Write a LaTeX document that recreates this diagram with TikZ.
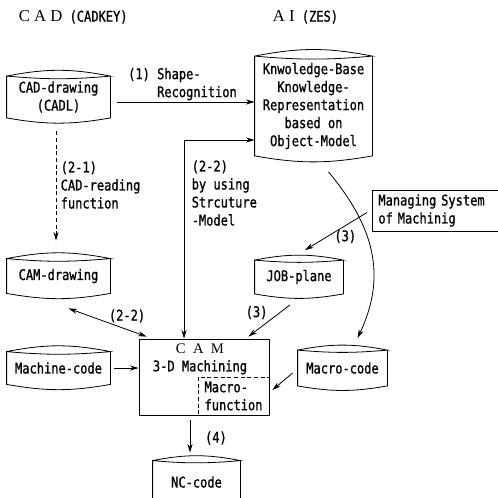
\documentclass[tikz,border=0pt]{standalone}
\usepackage{fontspec}
\setmainfont{DejaVu Sans Mono}[FakeStretch=0.82, FakeBold=1]
\newfontfamily\romfont{Liberation Serif}
\usetikzlibrary{arrows.meta,calc,positioning}

\newcommand{\storeline}[1]{%
  \draw (#1.north west) to[bend left=11] (#1.north east)
    to[bend left=5] (#1.north west) -- (#1.south west)
    to[bend right=10] (#1.south east) -- (#1.north east);}

\begin{document}
\begin{tikzpicture}[x=0.75pt, y=-0.75pt, line width=0.6pt,
  font=\fontsize{11}{13.5}\selectfont,
  store/.style={inner sep=0pt, align=center},
  flow/.style={-{Stealth[length=6.5pt,width=3.8pt]}},
  twoway/.style={{Stealth[length=6.5pt,width=3.8pt]}-{Stealth[length=6.5pt,width=3.8pt]}},
  tag/.style={inner sep=1pt, align=left}]
\useasboundingbox (0,0) rectangle (498,498);

\node[anchor=west] (cadtitle) at (14,17) {{\romfont\fontsize{12.5}{14}\selectfont C A D} (CADKEY)};
\node[anchor=west] (aititle) at (268,17) {{\romfont\fontsize{12.5}{14}\selectfont A I} (ZES)};

\node[store, minimum width=77.25pt, minimum height=30.75pt] (caddrw) at (58.5,97) {CAD-drawing\\(CADL)};
\storeline{caddrw}

\node[store, minimum width=87.75pt, minimum height=74.25pt] (kb) at (313.5,106) {Knwoledge-Base\\Knowledge-\\Representation\\based on\\Object-Model};
\storeline{kb}

\node[store, minimum width=77.25pt, minimum height=25.5pt] (camdrw) at (58.5,276) {CAM-drawing};
\storeline{camdrw}

\node[store, minimum width=77.25pt, minimum height=24pt] (machine) at (58.5,368) {Machine-code};
\storeline{machine}

\node[store, minimum width=66pt, minimum height=24.75pt] (job) at (299,277) {JOB-plane};
\storeline{job}

\node[store, minimum width=66.75pt, minimum height=26.25pt] (macro) at (342.5,368) {Macro-code};
\storeline{macro}

\node[store, minimum width=65.25pt, minimum height=31.5pt] (nc) at (196.5,482) {NC-code};
\storeline{nc}

\node[draw, minimum width=97.5pt, minimum height=57pt] (cam) at (204,377) {};
\node[align=center, inner sep=1pt] (camlbl) at (200,359) {{\romfont\fontsize{11}{13.5}\selectfont C\hspace{.5em}A\hspace{.5em}M}\\3-D Machining};
\node[draw, densely dashed, anchor=south east, minimum width=53.25pt, minimum height=28.5pt, align=left] (macfn) at (cam.south east) {Macro-\\function};

\node[draw, anchor=west, text width=90.75pt, inner xsep=4.5pt, minimum height=27.75pt, align=left] (manage) at (372,210.5) {Managing System\\of Machinig};

\draw[flow, shorten <=5pt] (caddrw.east |- 0,102) -- node[tag, above] (shapetag) {(1) Shape-\\\phantom{(1) }Recognition} (kb.west |- 0,102);

\draw[flow, densely dashed, shorten <=10pt, shorten >=13.5pt] (caddrw.south -| 56,0) -- (camdrw.north -| 56,0);
\node[tag, anchor=west] (readtag) at (59,185) {(2-1)\\CAD-reading\\function};

\draw[twoway] (cam.north -| 184,0) |- (kb.west |- 0,140);
\node[tag, anchor=west] (modeltag) at (190,193) {(2-2)\\by using\\Strcuture\\-Model};

\draw[twoway] ($(camdrw.south)+(10,15)$) -- node[tag, pos=0.75, above=4pt] (drwtag) {(2-2)} ($(cam.north west)+(8,-2)$);

\draw[flow, shorten <=3pt] (machine.east) -- (cam.west |- machine.east);

\draw[flow, shorten <=3.75pt, shorten >=6pt] (cam.south -| 190,0) -- node[tag, right=10pt] (nctag) {(4)} (nc.north -| 190,0);

\draw[flow] ($(manage.west)+(-5,2)$) -- node[tag, pos=0.35, below=2pt] (jobtag) {(3)} ($(job.north)+(6,-10)$);

\draw[flow] ($(job.south)+(-9,11)$) -- node[tag, midway, above left] (camtag) {(3)} ($(cam.north east)+(-21,-2)$);

\draw[flow] ($(kb.south)+(15,16)$) .. controls +(45,54) and +(30,-63) .. ($(macro.north)+(15,-12)$);

\draw[flow] ($(macro.west)+(-5,5)$) -- ($(cam.east)+(3,13)$);
\end{tikzpicture}
\end{document}
